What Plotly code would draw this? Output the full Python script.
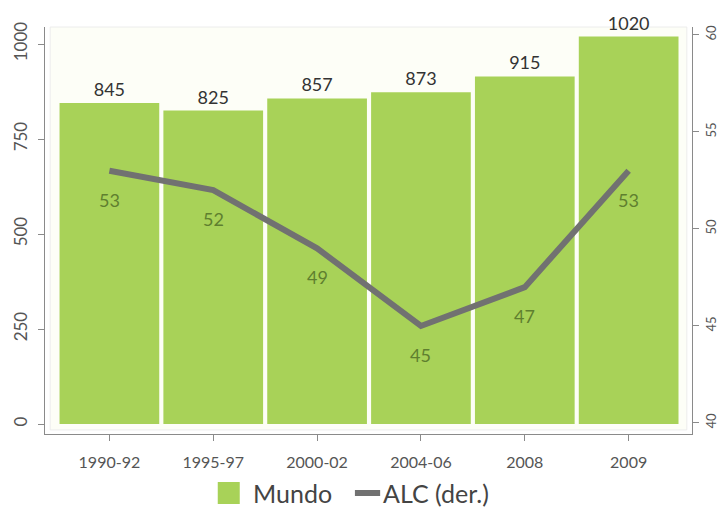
import plotly.graph_objects as go
from plotly.subplots import make_subplots

# Data
periods = ["1990-92", "1995-97", "2000-02", "2004-06", "2008", "2009"]
mundo = [845, 825, 857, 873, 915, 1020]          # left axis
alc = [53, 52, 49, 45, 47, 53]                    # right axis (der.)
left_ticks = [0, 250, 500, 750, 1000]
right_ticks = [40, 45, 50, 55, 60]
series_names = ["Mundo", "ALC (der.)"]

BAR_GREEN = "#a8d258"
LINE_GREY = "#717171"
AXIS_GREY = "#8a8a8a"
LABEL_GREEN = "#5f7f2f"
FONT = "Lato, 'Open Sans', sans-serif"

fig = make_subplots(specs=[[{"secondary_y": True}]])

fig.add_trace(
    go.Bar(
        x=periods, y=mundo, name=series_names[0],
        marker=dict(color=BAR_GREEN, line=dict(width=0)),
        text=[str(v) for v in mundo], textposition="outside",
        textfont=dict(size=18, color="#333333", family=FONT),
        cliponaxis=False, showlegend=False,
    ),
    secondary_y=False,
)

fig.add_trace(
    go.Scatter(
        x=periods, y=alc, name=series_names[1], mode="lines",
        line=dict(color=LINE_GREY, width=6), showlegend=False,
    ),
    secondary_y=True,
)

# Value labels under the line points (x given as category index)
for i, v in enumerate(alc):
    fig.add_annotation(
        x=i, y=v, xref="x", yref="y2", text=str(v), showarrow=False,
        yshift=-29, font=dict(size=18, color=LABEL_GREEN, family=FONT),
    )

# Light inner panel behind the bars
fig.add_shape(
    type="rect", xref="paper", yref="paper", x0=0.008, x1=0.992, y0=0.01, y1=1.0,
    fillcolor="#fdfef7", line=dict(color="#ececec", width=1), layer="below",
)

# Legend drawn below the plot: swatches and labels
fig.add_shape(
    type="rect", xref="paper", yref="paper", x0=0.267, x1=0.301, y0=-0.172, y1=-0.118,
    fillcolor=BAR_GREEN, line=dict(width=0),
)
fig.add_annotation(
    x=0.318, y=-0.145, xref="paper", yref="paper", text=series_names[0],
    showarrow=False, xanchor="left", yanchor="middle",
    font=dict(size=25, color="#444444", family=FONT),
)
fig.add_shape(
    type="line", xref="paper", yref="paper", x0=0.479, x1=0.518, y0=-0.145, y1=-0.145,
    line=dict(color=LINE_GREY, width=6),
)
fig.add_annotation(
    x=0.52, y=-0.145, xref="paper", yref="paper", text=series_names[1],
    showarrow=False, xanchor="left", yanchor="middle",
    font=dict(size=25, color="#444444", family=FONT),
)

fig.update_layout(
    width=720, height=512,
    margin=dict(l=45, r=28, t=27, b=78),
    paper_bgcolor="white", plot_bgcolor="white",
    bargap=0.04,
    showlegend=False,
    font=dict(family=FONT, color="#555555"),
)

fig.update_xaxes(
    type="category", range=[-0.62, 5.61], domain=[0, 1], automargin=False,
    showline=True, linecolor=AXIS_GREY, linewidth=1, mirror=False,
    ticks="outside", ticklen=6, tickcolor=AXIS_GREY,
    tickfont=dict(size=16, color="#555555", family=FONT), ticklabelstandoff=8,
    showgrid=False, zeroline=False,
)

fig.update_yaxes(
    range=[-26, 1045], tickvals=left_ticks, tickangle=-90, automargin=False,
    showline=True, linecolor=AXIS_GREY, linewidth=1,
    ticks="outside", ticklen=6, tickcolor=AXIS_GREY,
    tickfont=dict(size=17, color="#555555", family=FONT), ticklabelstandoff=4,
    showgrid=False, zeroline=False,
    secondary_y=False,
)

fig.update_yaxes(
    range=[39.43, 60.41], tickvals=right_ticks, tickangle=-90, automargin=False,
    showline=True, linecolor=AXIS_GREY, linewidth=1,
    ticks="outside", ticklen=6, tickcolor=AXIS_GREY,
    tickfont=dict(size=13, color="#555555", family=FONT), ticklabelstandoff=1,
    showgrid=False, zeroline=False,
    secondary_y=True,
)

fig.write_html("out.html")
